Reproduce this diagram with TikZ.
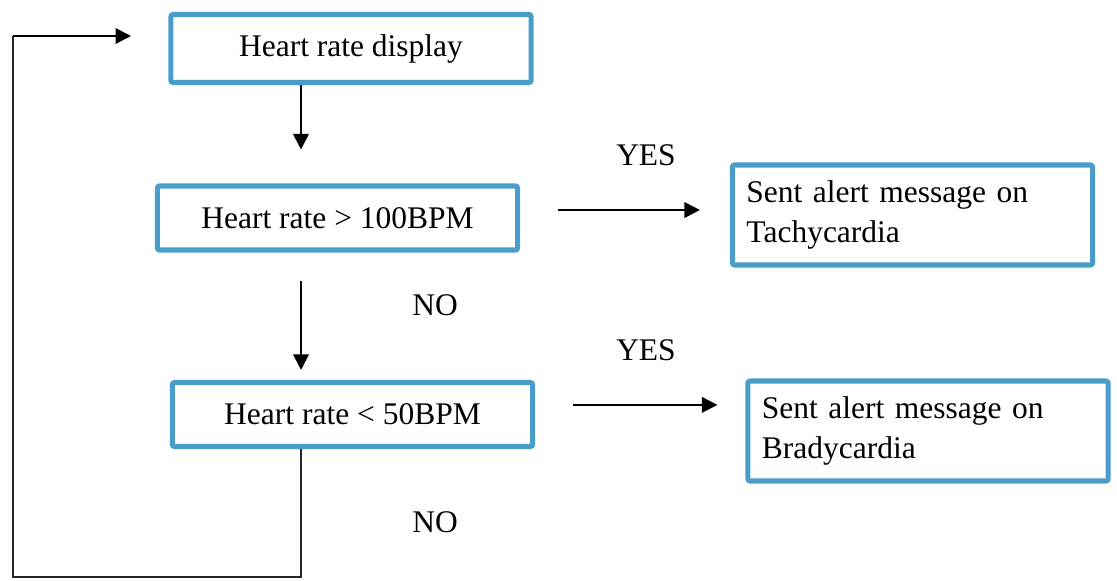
\documentclass[tikz,border=0pt]{standalone}
\usepackage{fontspec}
\setmainfont{Liberation Serif}
\usetikzlibrary{arrows.meta}
\definecolor{boxblue}{RGB}{74,156,201}
\tikzset{
  box/.style={draw=boxblue, line width=3.6pt, rounded corners=1.5pt, minimum width=9cm,
    minimum height=1.6cm, inner sep=0pt, font=\fontsize{22.4}{28}\selectfont},
  msgbox/.style={box, minimum height=2.5cm, text width=8.3cm, align=left},
  lbl/.style={font=\fontsize{22.4}{28}\selectfont},
  arr/.style={-{Triangle[length=11pt,width=11pt]}, line width=1.4pt},
  loopline/.style={line width=0.8pt, black!85}
}

\begin{document}
\begin{tikzpicture}[x=0.025cm,y=-0.025cm]
\useasboundingbox (0,0) rectangle (1117,580);

% boxes
\node[box, minimum height=1.7cm] (disp) at (351,48.5) {Heart rate display};
\node[box] (tachyQ) at (337.5,218) {Heart rate > 100BPM};
\node[box] (bradyQ) at (352.5,414.5) {Heart rate < 50BPM};
\node[msgbox] (tachyMsg) at (912.5,215) {Sent alert message on\\Tachycardia};
\node[msgbox] (bradyMsg) at (928,431) {Sent alert message on\\Bradycardia};

% labels
\node[lbl] (yes1) at (646,155) {YES};
\node[lbl] (no1) at (435,305) {NO};
\node[lbl] (yes2) at (646,350) {YES};
\node[lbl] (no2) at (435,522) {NO};

\coordinate (col) at (301,0);
\coordinate (back) at (13,577);
\coordinate (loopend) at (131,36);

% arrows
\draw[arr, shorten >=0.85cm] (disp.south -| col) -- (tachyQ.north -| col);
\draw[arr, shorten <=0.7cm, shorten >=0.25cm] (tachyQ.south -| col) -- (bradyQ.north -| col);
\draw[arr, shorten <=0.95cm, shorten >=0.75cm] ([yshift=0.2cm]tachyQ.east) -- ([yshift=0.2cm]tachyQ.east -| tachyMsg.west);
\draw[arr, shorten <=0.95cm, shorten >=0.7cm] ([yshift=0.24cm]bradyQ.east) -- ([yshift=0.24cm]bradyQ.east -| bradyMsg.west);

% loop back
\draw[loopline] (bradyQ.south -| col) |- (back) |- (loopend -| back);
\draw[arr] (loopend -| back) -- (loopend);
\end{tikzpicture}
\end{document}
